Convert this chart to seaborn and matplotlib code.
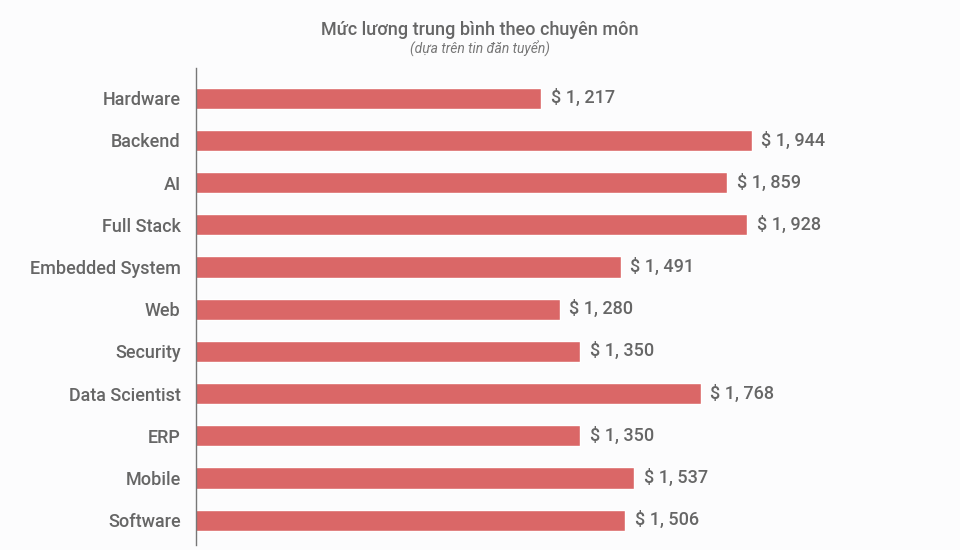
import pandas as pd
import seaborn as sns
import matplotlib.pyplot as plt

# Data
categories = ["Hardware", "Backend", "AI", "Full Stack", "Embedded System", "Web",
              "Security", "Data Scientist", "ERP", "Mobile", "Software"]
salaries = [1217, 1944, 1859, 1928, 1491, 1280, 1350, 1768, 1350, 1537, 1506]
value_labels = ["$ 1, 217", "$ 1, 944", "$ 1, 859", "$ 1, 928", "$ 1, 491", "$ 1, 280",
                "$ 1, 350", "$ 1, 768", "$ 1, 350", "$ 1, 537", "$ 1, 506"]

df = pd.DataFrame({"category": categories, "salary": salaries})

sns.set_style("white")
plt.rcParams["font.family"] = ["Roboto", "DejaVu Sans"]

fig = plt.figure(figsize=(9.6, 5.5), dpi=100)
fig.patch.set_facecolor("#fcfcfd")
ax = fig.add_axes([0.204, 0.009, 0.734, 0.867])
ax.set_facecolor("none")

sns.barplot(data=df, x="salary", y="category", color="#da6767", saturation=1,
            width=0.5, ax=ax)

for i, (v, lab) in enumerate(zip(salaries, value_labels)):
    ax.annotate(lab, (v, i), xytext=(7, 0), textcoords="offset points",
                va="center", ha="left", fontsize=13, color="#666666", fontweight="medium")

ax.set_xlim(22, 2459)
ax.set_ylim(10.59, -0.71)
ax.set_xlabel("")
ax.set_ylabel("")
ax.set_xticks([])
ax.tick_params(axis="y", length=0, pad=11, labelsize=13, labelcolor="#666666")
for lbl in ax.get_yticklabels():
    lbl.set_fontweight("medium")
for s in ["top", "right", "bottom"]:
    ax.spines[s].set_visible(False)
ax.spines["left"].set_color("#777777")
ax.spines["left"].set_linewidth(1)

fig.text(0.5, 0.945, "Mức lương trung bình theo chuyên môn", ha="center", va="center",
         fontsize=13, color="#666666", fontweight="medium")
fig.text(0.5, 0.912, "(dựa trên tin đăn tuyển)", ha="center", va="center",
         fontsize=10, color="#777777", style="italic")

fig.savefig("out.png", dpi=100, facecolor=fig.get_facecolor())
